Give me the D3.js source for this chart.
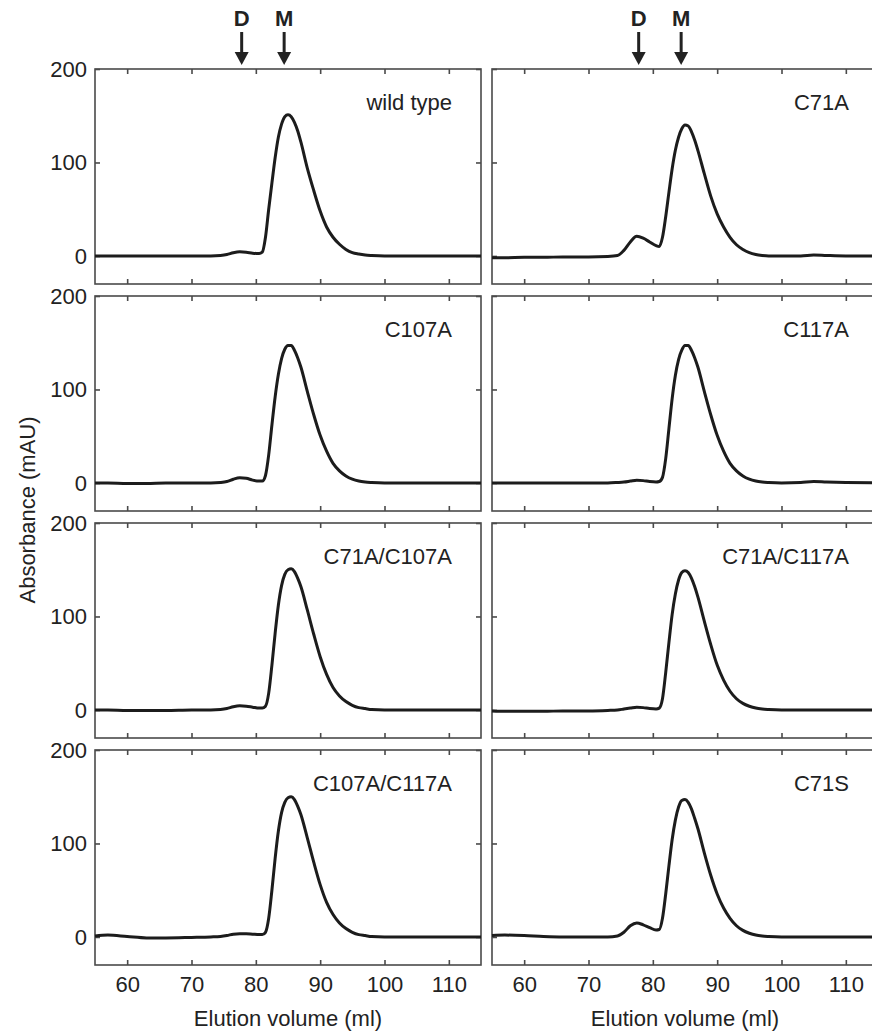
<!DOCTYPE html>
<html>
<head>
<meta charset="utf-8">
<script src="https://cdn.jsdelivr.net/npm/d3@7"></script>
<style>
  body { margin: 0; background: #fff; }
  svg text { font-family: "Liberation Sans", Arial, sans-serif; fill: #222; }
</style>
</head>
<body>
<div id="chart"></div>
<script>
// elution volume grid (ml) shared by all traces
const volume = [55, 57, 60, 63, 66, 70, 73, 74.5, 75.5, 76.5, 77.5, 78.5, 79.5, 80.5, 81, 81.5, 82, 82.5, 83, 83.5,
  84, 84.5, 85, 85.5, 86, 86.5, 87, 88, 89, 90, 91, 92, 93, 94, 95, 96, 97, 98, 100, 103, 105, 107, 110, 115];

const wildType = [0, 0, 0, 0, 0, 0, 0, 0.5, 1.5, 3.5, 4.5, 4, 3, 2.5, 4, 20, 50, 78, 105, 127,
  141, 149, 151, 149, 143, 134, 122, 94, 70, 48, 31, 20, 12.5, 7, 3.5, 2, 1, 0.5, 0, 0, 0, 0, 0, 0];
const c71a = [-2, -2, -1.5, -1.5, -1, -1, -0.5, 0.5, 6, 15, 21, 19, 15, 11, 10, 20, 42, 68, 93, 113,
  127, 136, 140, 139, 133, 124, 113, 88, 64, 45, 31, 20, 12, 7, 3.5, 1.5, 0.5, 0, 0, 0, 1, 0.5, 0, 0];
const c107a = [0, 0, -0.5, -0.5, 0, 0, 0, 0.5, 1.5, 4, 5.5, 5, 3, 2, 2, 8, 30, 62, 92, 116,
  133, 143, 147, 147, 142, 134, 124, 98, 73, 51, 34, 21, 13, 7.5, 4, 2, 1, 0.5, 0, 0, 0, 0, 0, 0];
const c117a = [0, 0, 0, 0, 0, 0, 0, 0.5, 1, 2, 3, 2.5, 1.5, 1, 1.5, 6, 26, 58, 90, 115,
  132, 142, 147, 147, 142, 134, 124, 98, 73, 51, 34, 21, 13, 7.5, 4, 2, 1, 0.5, 0, 0.5, 1.5, 1, 0.5, 0];
const c71aC107a = [0, 0, -0.5, -0.5, -0.5, 0, 0, 0.5, 1.5, 3.5, 4.5, 4, 3, 2, 2, 4, 18, 48, 82, 112,
  133, 145, 150, 151, 148, 141, 132, 107, 81, 57, 38, 24, 15, 9, 5, 2.5, 1.5, 0.5, 0, 0, 0, 0, 0, 0];
const c71aC117a = [-1, -1.5, -1.5, -1.5, -1, -1, -0.5, 0, 1, 2, 3, 2.5, 1.5, 1, 2, 12, 40, 72, 102, 124,
  139, 147, 149, 147, 141, 132, 121, 95, 70, 48, 32, 20, 12, 7, 4, 2, 1, 0.5, 0, 0, 0, 0, 0, 0];
const c107aC117a = [1, 2, 0.5, -1, -1, -0.5, 0, 0.5, 1.5, 3, 3.5, 3.5, 3, 2.5, 2.5, 5, 20, 50, 84, 113,
  133, 144, 149, 150, 147, 140, 131, 106, 80, 56, 37, 24, 15, 9, 5, 2.5, 1.5, 0.5, 0, 0, 0, 0, 0, 0];
const c71s = [1.5, 2, 1.5, 0.5, 0, 0, 0, 1, 5, 12, 15, 13, 10, 7.5, 8, 20, 46, 76, 104, 125,
  139, 146, 147, 144, 137, 127, 116, 90, 66, 46, 31, 20, 12, 7, 4, 2, 1, 0.5, 0, 0, 0, 0, 0, 0];

const panelNames = ['wild type', 'C71A', 'C107A', 'C117A', 'C71A/C107A', 'C71A/C117A', 'C107A/C117A', 'C71S'];
const panelSeries = [wildType, c71a, c107a, c117a, c71aC107a, c71aC117a, c107aC117a, c71s];

const xTicks = [60, 70, 80, 90, 100, 110];
const yTicks = [0, 100, 200];
const markerLabels = ['D', 'M'];
const markerVolumes = [77.8, 84.4];

const width = 872;
const height = 1031;
const panelW = 386;
const panelH = 215;
const colX = [95, 492];
const rowY = [69, 296, 523, 750];
const frameColor = '#4a4a4a';
const ink = '#222';

const svg = d3.select('#chart').append('svg')
  .attr('width', width)
  .attr('height', height);

const x = d3.scaleLinear().domain([55, 115]).range([0, panelW]);
const y = d3.scaleLinear().domain([-30, 200]).range([panelH, 0]);

const line = d3.line()
  .x((d, i) => x(volume[i]))
  .y(d => y(d))
  .curve(d3.curveMonotoneX);

panelSeries.forEach((series, k) => {
  const col = k % 2;
  const row = Math.floor(k / 2);
  const g = svg.append('g')
    .attr('transform', `translate(${colX[col]},${rowY[row]})`);

  // frame
  g.append('rect')
    .attr('width', panelW)
    .attr('height', panelH)
    .attr('fill', 'none')
    .attr('stroke', frameColor)
    .attr('stroke-width', 1.6);

  const axes = [
    { ax: d3.axisTop(x), t: [0, 0], ticks: xTicks, lab: false },
    { ax: d3.axisBottom(x), t: [0, panelH], ticks: xTicks, lab: row === 3 },
    { ax: d3.axisLeft(y), t: [0, 0], ticks: yTicks, lab: col === 0 },
    { ax: d3.axisRight(y), t: [panelW, 0], ticks: yTicks, lab: false }
  ];
  axes.forEach(a => {
    a.ax.tickValues(a.ticks).tickSize(-5).tickSizeOuter(0)
      .tickPadding(a.ax === axes[2].ax ? 8 : 11);
    if (!a.lab) a.ax.tickFormat('');
    const ag = g.append('g')
      .attr('transform', `translate(${a.t[0]},${a.t[1]})`)
      .call(a.ax);
    ag.select('.domain').remove();
    ag.selectAll('.tick line').attr('stroke', frameColor).attr('stroke-width', 1.6);
    ag.selectAll('.tick text')
      .style('font-size', '22px')
      .style('font-family', '"Liberation Sans", Arial, sans-serif')
      .attr('fill', ink);
  });

  g.append('path')
    .datum(series)
    .attr('d', line)
    .attr('fill', 'none')
    .attr('stroke', '#1c1c1c')
    .attr('stroke-width', 3)
    .attr('stroke-linejoin', 'round');

  g.append('text')
    .attr('x', panelW - 29)
    .attr('y', 41)
    .attr('text-anchor', 'end')
    .style('font-size', '22px')
    .text(panelNames[k]);

  if (row === 3) {
    g.append('text')
      .attr('x', panelW / 2)
      .attr('y', panelH + 61)
      .attr('text-anchor', 'middle')
      .style('font-size', '22px')
      .text('Elution volume (ml)');
  }

  if (row === 0) {
    markerVolumes.forEach((v, j) => {
      const ax = x(v);
      g.append('text')
        .attr('x', ax)
        .attr('y', 26 - rowY[0])
        .attr('text-anchor', 'middle')
        .style('font-size', '22px')
        .style('font-weight', 'bold')
        .text(markerLabels[j]);
      g.append('line')
        .attr('x1', ax).attr('x2', ax)
        .attr('y1', 32 - rowY[0]).attr('y2', 53 - rowY[0])
        .attr('stroke', ink)
        .attr('stroke-width', 3);
      g.append('path')
        .attr('d', `M${ax - 7},${52 - rowY[0]}L${ax + 7},${52 - rowY[0]}L${ax},${65 - rowY[0]}Z`)
        .attr('fill', ink);
    });
  }
});

svg.append('text')
  .attr('transform', 'translate(35,510) rotate(-90)')
  .attr('text-anchor', 'middle')
  .style('font-size', '22px')
  .text('Absorbance (mAU)');
</script>
</body>
</html>
